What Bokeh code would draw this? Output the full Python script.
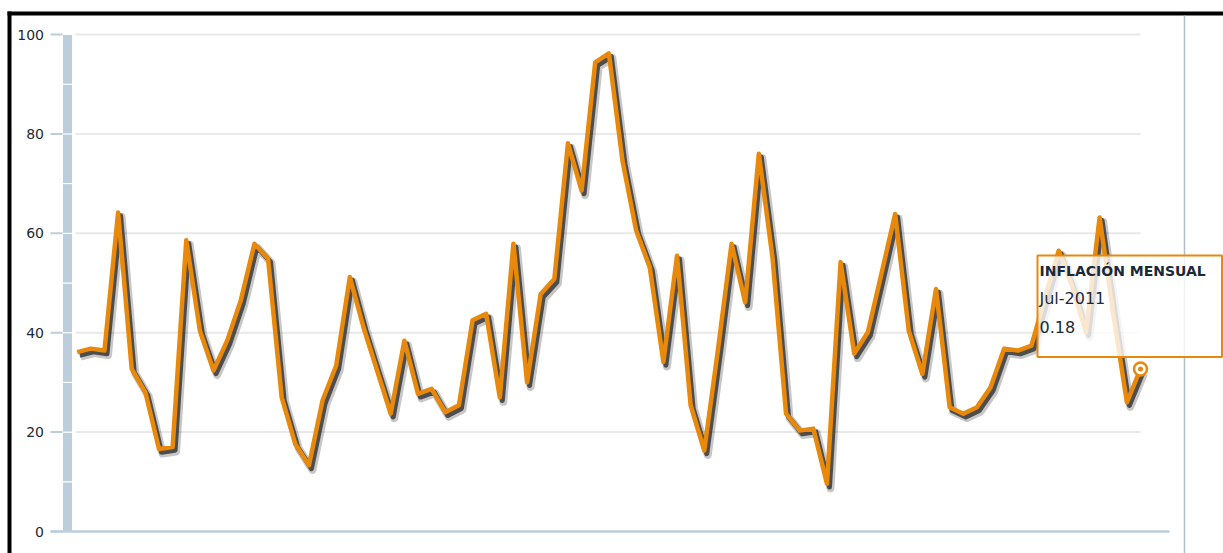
import numpy as np
from bokeh.plotting import figure
from bokeh.models import Range1d, ColumnDataSource
from bokeh.transform import dodge
from bokeh.core.properties import value
from bokeh.embed import file_html
from bokeh.resources import INLINE

# ---------------- data ----------------
values = [36.1, 36.8, 36.4, 64.2, 32.7, 28.0, 16.6, 17.0, 58.6, 40.4,
          32.4, 38.4, 46.5, 57.9, 54.9, 27.0, 17.6, 13.3, 26.4, 33.4,
          51.2, 41.1, 32.4, 23.7, 38.4, 27.7, 28.7, 24.0, 25.4, 42.5,
          43.8, 27.0, 57.9, 30.0, 47.8, 50.8, 78.1, 68.6, 94.4, 96.2,
          74.6, 60.6, 53.2, 34.1, 55.5, 25.4, 16.3, 36.5, 57.9, 46.1,
          76.0, 55.2, 23.7, 20.3, 20.7, 9.6, 54.2, 35.8, 40.1, 51.9,
          63.9, 40.4, 31.7, 48.8, 25.0, 23.7, 25.0, 29.0, 36.8, 36.4,
          37.4, 47.1, 56.5, 49.2, 40.1, 63.2, 43.8, 26.0, 32.7]
y_ticks = [0, 20, 40, 60, 80, 100]
y_tick_labels = ["0", "20", "40", "60", "80", "100"]
bar_steps = [0, 10, 20, 30, 40, 50, 60, 70, 80, 90, 100]
tooltip_title = "INFLACIÓN MENSUAL"
tooltip_date = "Jul-2011"
tooltip_value = "0.18"

# ---------------- layout constants (pixels) ----------------
W, H = 1223, 553
X_FIRST_PX, X_LAST_PX = 76.7, 1140.0
Y0_PX, Y100_PX = 531.0, 34.0

ORANGE = "#e8890c"
AXIS_BLUE = "#bccddc"
TEXT = "#1b2a3a"

n = len(values)
xs = np.arange(n)
ppx = (X_LAST_PX - X_FIRST_PX) / (n - 1)
ppy = (Y0_PX - Y100_PX) / 100.0

x_range = Range1d(-X_FIRST_PX / ppx, (n - 1) + (W - X_LAST_PX) / ppx)
y_range = Range1d(-(H - Y0_PX) / ppy, 100 + Y100_PX / ppy)

p = figure(width=W, height=H, x_range=x_range, y_range=y_range,
           x_axis_type=None, y_axis_type=None, output_backend="svg",
           toolbar_location=None, min_border=0, outline_line_color=None)
p.extra_x_ranges = {"px": Range1d(0, W)}
p.extra_y_ranges = {"py": Range1d(H, 0)}

# black frame (top & left)
p.quad(left=[7, 7], right=[W, 11], top=[11, 11], bottom=[15, H],
       x_range_name="px", y_range_name="py",
       fill_color="black", line_color=None)
# right vertical separator
p.segment(x0=[1184], x1=[1184], y0=[15], y1=[H], x_range_name="px",
          y_range_name="py", line_color="#b2bec6", line_width=1.5)

# grid lines
p.segment(x0=[75] * 5, x1=[1140] * 5, y0=y_ticks[1:], y1=y_ticks[1:],
          x_range_name="px", line_color="#e9e9e9", line_width=2)
# axis bar with white breaks every 10 units
p.quad(left=[62] * (len(bar_steps) - 1), right=[72] * (len(bar_steps) - 1),
       bottom=bar_steps[:-1], top=bar_steps[1:], x_range_name="px",
       fill_color=AXIS_BLUE, line_color="white", line_width=1)
# ticks
p.segment(x0=[50] * len(y_ticks), x1=[62] * len(y_ticks), y0=y_ticks,
          y1=y_ticks, x_range_name="px", line_color=AXIS_BLUE, line_width=2)
# baseline
p.segment(x0=[50], x1=[1169], y0=[0], y1=[0], x_range_name="px",
          line_color=AXIS_BLUE, line_width=2.5)
# tick labels
p.text(x=[43.5] * len(y_ticks), y=y_ticks, text=y_tick_labels,
       x_range_name="px", text_align="right", text_baseline="middle",
       text_font=value("DejaVu Sans"), text_font_size="14px",
       text_color=TEXT)

# series: shadow + line
src = ColumnDataSource(dict(x=xs, y=values))
p.line(x=dodge("x", 3.5 / ppx), y=dodge("y", -4.5 / ppy), source=src,
       line_color="black", line_alpha=0.22, line_width=8, line_join="round")
p.line(x=dodge("x", 2.5 / ppx), y=dodge("y", -3.2 / ppy), source=src,
       line_color="#1a1a1a", line_alpha=0.7, line_width=5, line_join="round")
p.line(x="x", y="y", source=src, line_color=ORANGE, line_width=4.5,
       line_join="round")

# highlighted last point
p.scatter(x=[xs[-1]], y=[values[-1]], size=13, fill_color="white",
          line_color=ORANGE, line_width=2.5)
p.scatter(x=[xs[-1]], y=[values[-1]], size=5, fill_color=ORANGE,
          line_color=None)

# tooltip
p.quad(left=[1037], right=[1221.5], top=[255], bottom=[356.5],
       x_range_name="px", y_range_name="py", fill_color="white",
       fill_alpha=0.8, line_color=ORANGE, line_width=2)
p.text(x=[1039], y=[270], text=[tooltip_title], x_range_name="px",
       y_range_name="py", text_baseline="middle",
       text_font=value("DejaVu Sans"), text_font_style="bold",
       text_font_size="14px", text_color=TEXT)
p.text(x=[1039, 1039], y=[298, 326], text=[tooltip_date, tooltip_value],
       x_range_name="px", y_range_name="py", text_baseline="middle",
       text_font=value("DejaVu Sans"), text_font_size="16px",
       text_color=TEXT)

open("out.html", "w").write(file_html(p, INLINE))
